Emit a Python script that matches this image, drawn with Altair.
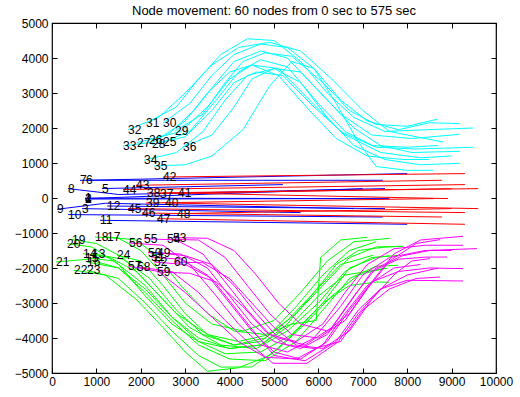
import altair as alt
import pandas as pd

FONT = "Liberation Sans"
TITLE = "Node movement: 60 nodes from 0 sec to 575 sec"
x_ticks = [0, 1000, 2000, 3000, 4000, 5000, 6000, 7000, 8000, 9000, 10000]
y_ticks = [-5000, -4000, -3000, -2000, -1000, 0, 1000, 2000, 3000, 4000, 5000]

# ---- blue group: nodes 1-12
blue_nodes = list(range(1, 13))
blue_x = [
    [743, 3500, 7600], [743, 7000], [676, 5600], [743, 7000], [1126, 5200], [766, 8000],
    [630, 7450], [360, 1500, 7500], [113, 1200, 6800], [360, 7450], [1081, 8000], [1239, 7500],
]
blue_y = [
    [-5, -10, -17], [-17, 268], [-303, -417], [-30, -17], [269, 383], [506, 697],
    [506, 506], [269, 100, 268], [-323, -150, -303], [-474, -543], [-637, -751], [-229, -303],
]

# ---- green group: nodes 13-24
green_nodes = list(range(13, 25))
green_x = [
    [901, 1600, 2200, 2800, 3400, 4100, 4800, 5500, 6100, 6700, 7300, 7905],
    [698, 1300, 1900, 2500, 3100, 3800, 4600, 5300, 6000, 6600, 7200, 7800],
    [743, 1400, 2100, 2700, 3300, 3900, 4700, 5400, 6100, 6700, 7300, 7600],
    [788, 1500, 2100, 2700, 3300, 4000, 4800, 5500, 6100, 6700, 7300, 7800],
    [1239, 1900, 2400, 2900, 3500, 4100, 4800, 5400, 5950, 6050, 6500, 7095],
    [968, 1500, 2000, 2500, 3000, 3600, 4300, 5000, 5600, 6200, 6800, 7612],
    [450, 1000, 1600, 2200, 2800, 3500, 4200, 4900, 5500, 6100, 6700, 7300],
    [338, 900, 1500, 2100, 2700, 3300, 4000, 4700, 5300, 5900, 6500, 7230],
    [90, 800, 1500, 2100, 2700, 3300, 4000, 4700, 5400, 6000, 6600, 7545],
    [495, 1200, 1900, 2500, 3000, 3500, 4200, 4900, 5500, 6100, 6700, 7300, 7600],
    [788, 1500, 2100, 2700, 3300, 3800, 4500, 5100, 5700, 6300, 6900, 7500],
    [1464, 2000, 2500, 3000, 3500, 4100, 4700, 5300, 5900, 6400, 6900, 7500, 7900],
]
green_y = [
    [-1589, -1750, -2300, -3200, -3900, -4200, -4000, -3300, -2500, -1700, -1400, -1380],
    [-1589, -1700, -2100, -2900, -3700, -4200, -4300, -3800, -3000, -2100, -1700, -1640],
    [-1700, -1800, -2500, -3400, -4100, -4450, -4400, -3900, -3000, -2000, -1700, -1650],
    [-1829, -2000, -2700, -3500, -4200, -4600, -4650, -4100, -3200, -2300, -1950, -1923],
    [-1114, -1200, -1700, -2500, -3300, -3800, -3900, -3600, -3500, -1700, -1200, -1123],
    [-1114, -1150, -1500, -2200, -3000, -3600, -3800, -3500, -2700, -1800, -1250, -1151],
    [-1189, -1300, -1700, -2500, -3300, -3900, -4100, -3900, -3100, -2200, -1500, -1250],
    [-1303, -1400, -1900, -2800, -3600, -4100, -4300, -4200, -3600, -2700, -1900, -1637],
    [-1829, -1750, -2000, -2600, -3400, -4000, -4300, -4200, -3600, -2800, -2200, -2009],
    [-2066, -2200, -2900, -3700, -4400, -4950, -4850, -4500, -3800, -3000, -2500, -2400, -2409],
    [-2066, -2300, -3000, -3800, -4500, -4830, -4830, -4300, -3600, -2800, -2200, -2000],
    [-1637, -1800, -2500, -3300, -3900, -4200, -4100, -3500, -2700, -1900, -1500, -1400, -1380],
]

# ---- cyan group: nodes 25-36
cyan_nodes = list(range(25, 37))
cyan_x = [
    [2500, 3100, 3700, 4200, 4700, 5300, 6000, 6600, 7300, 8200, 9482],
    [2185, 2900, 3500, 4000, 4500, 5100, 5800, 6500, 7200, 8000, 8700],
    [1914, 2600, 3200, 3700, 4100, 4700, 5300, 5900, 6500, 7200, 8100, 9189],
    [2252, 3000, 3600, 4100, 4600, 5200, 5900, 6600, 7400, 8300, 9000],
    [2770, 3400, 3900, 4300, 4800, 5400, 6100, 6700, 7300, 8000, 8671],
    [2500, 3100, 3600, 4100, 4700, 5300, 5900, 6500, 7100, 7800, 8500, 9189],
    [2117, 2800, 3300, 3800, 4400, 5000, 5600, 6200, 6800, 7500, 8400, 9482],
    [1712, 2400, 3000, 3600, 4200, 4900, 5600, 6300, 7000, 7600, 8806],
    [1599, 2300, 3000, 3500, 4000, 4500, 5100, 5800, 6400, 7100, 7900, 8500],
    [2072, 2800, 3400, 3900, 4400, 5000, 5600, 6200, 6800, 7500, 8300, 9189],
    [2297, 3000, 3600, 4300, 4900, 5400, 5900, 6400, 6900, 7300, 8000, 8581],
    [2950, 3600, 4100, 4500, 5000, 5600, 6200, 6800, 7400, 8100, 9189],
]
cyan_y = [
    [1600, 1900, 2800, 3600, 3950, 3750, 2700, 1900, 1450, 1400, 1449],
    [1669, 1900, 2600, 3400, 3800, 3700, 2800, 1900, 1500, 1450, 1500],
    [1583, 1800, 2500, 3300, 3900, 4200, 4000, 3200, 2400, 1800, 1700, 1820],
    [1534, 1750, 2500, 3300, 3600, 3500, 2600, 1800, 1300, 1150, 1200],
    [1914, 2400, 3300, 3900, 4150, 4050, 3300, 2500, 2100, 2050, 2249],
    [2143, 2700, 3500, 4100, 4400, 4300, 3700, 2800, 2200, 1950, 2150, 2126],
    [2143, 2600, 3400, 4100, 4550, 4500, 3900, 3000, 2300, 1900, 1950, 2000],
    [1954, 2300, 3000, 3800, 4300, 4450, 4200, 3400, 2500, 1900, 1600],
    [1486, 1600, 2200, 3000, 3600, 3800, 3500, 2500, 1700, 1200, 1100, 1100],
    [1077, 1300, 1900, 2800, 3500, 3700, 3300, 2300, 1500, 1100, 950, 991],
    [914, 950, 1200, 1950, 3200, 3900, 3700, 2700, 1600, 900, 790, 791],
    [1457, 1800, 2600, 3400, 3700, 3600, 2800, 2000, 1500, 1300, 1334],
]

# ---- red group: nodes 37-48
red_nodes = list(range(37, 49))
red_x = [
    [2432, 9000], [2140, 9600], [2117, 8600], [2545, 9600], [2838, 8920], [2500, 9300],
    [1892, 8780], [1599, 9300], [1712, 9300], [2027, 8780], [2365, 9300], [2815, 9000],
]
red_y = [
    [126, 268], [143, 268], [-143, -17], [-143, -303], [143, -17], [600, 697],
    [363, 506], [240, 383], [-303, -417], [-429, -543], [-589, -751], [-446, -303],
]

# ---- magenta group: nodes 49-60
magenta_nodes = list(range(49, 61))
magenta_x = [
    [2365, 3000, 3600, 4100, 4600, 5100, 5700, 6300, 6800, 7300, 7900, 8500, 9000],
    [2162, 2900, 3500, 4000, 4500, 5000, 5600, 6200, 6700, 7200, 7800, 8400, 8896],
    [2230, 2900, 3500, 4000, 4500, 5000, 5600, 6200, 6700, 7200, 7800, 8500, 9257],
    [2297, 3000, 3600, 4100, 4600, 5000, 5700, 6400, 6900, 7400, 8000, 8700],
    [2725, 3500, 4100, 4600, 5100, 5600, 6200, 6700, 7200, 7700, 8300, 9257],
    [2590, 3300, 3900, 4400, 4900, 5400, 6000, 6600, 7100, 7600, 8200, 8739],
    [2072, 2800, 3400, 3900, 4400, 4900, 5500, 6100, 6600, 7100, 7700, 8400, 9257],
    [1734, 2500, 3100, 3700, 4200, 4700, 5300, 5900, 6500, 7000, 7600, 8400, 9572],
    [1712, 2400, 3000, 3600, 4200, 4800, 5500, 6100, 6600, 7100, 7700, 8300],
    [1914, 2700, 3300, 3900, 4400, 4977, 5743, 6441, 6900, 7400, 8000, 9257],
    [2365, 3100, 3700, 4300, 4800, 5300, 5900, 6500, 7000, 7600, 8200, 8739],
    [2748, 3400, 4000, 4500, 5000, 5500, 6100, 6700, 7200, 7700, 8100, 8514],
]
magenta_y = [
    [-1560, -1650, -1900, -2500, -3300, -4000, -4200, -3700, -2800, -2000, -1650, -1500, -1500],
    [-1560, -1600, -2000, -2800, -3600, -4100, -4300, -3900, -3000, -2100, -1750, -1690, -1686],
    [-1686, -1750, -2200, -3000, -3800, -4400, -4600, -4100, -3200, -2400, -2100, -2000, -2017],
    [-1829, -1900, -2300, -3100, -3900, -4500, -4650, -4100, -3200, -2600, -2200, -2000],
    [-1131, -1150, -1500, -2200, -3000, -3600, -3800, -3300, -2400, -1600, -1200, -1094],
    [-1180, -1200, -1700, -2500, -3300, -3900, -4000, -3500, -2600, -1800, -1300, -1189],
    [-1160, -1200, -1600, -2400, -3200, -3900, -4100, -3600, -2700, -1900, -1450, -1350, -1351],
    [-1286, -1350, -1900, -2800, -3600, -4200, -4400, -4000, -3100, -2200, -1700, -1500, -1446],
    [-1943, -2100, -2700, -3400, -4100, -4550, -4600, -4200, -3300, -2500, -2000, -1900],
    [-1971, -2100, -2700, -3500, -4100, -4723, -4723, -4114, -3300, -2600, -2350, -2371],
    [-2114, -2150, -2400, -3100, -3800, -4200, -4300, -4100, -3200, -2600, -2300, -2257],
    [-1829, -1850, -2300, -3000, -3700, -4200, -4300, -3800, -2900, -2200, -1800, -1731],
]

groups = [
    (blue_nodes, blue_x, blue_y, "#0000ff"),
    (green_nodes, green_x, green_y, "#00ff00"),
    (cyan_nodes, cyan_x, cyan_y, "#00ffff"),
    (red_nodes, red_x, red_y, "#ff0000"),
    (magenta_nodes, magenta_x, magenta_y, "#ff00ff"),
]


def to_frame(nodes, xs, ys):
    rows = []
    for n, xl, yl in zip(nodes, xs, ys):
        for i, (a, b) in enumerate(zip(xl, yl)):
            rows.append({"node": n, "i": i, "x": a, "y": b})
    return pd.DataFrame(rows)


xscale = alt.Scale(domain=[0, 10000], nice=False, zero=False)
yscale = alt.Scale(domain=[-5000, 5000], nice=False, zero=False)

common_axis = dict(
    format="d", offset=-5, tickSize=5, tickWidth=1, tickColor="black", domain=False,
    grid=False, labelFont=FONT, labelFontSize=12, labelColor="black", title=None,
    labelFlush=False, labelOverlap=False,
)
x_bottom = alt.Axis(orient="bottom", values=x_ticks, labelPadding=3, **common_axis)
y_left = alt.Axis(orient="left", values=y_ticks, labelPadding=4, **common_axis)
x_top = alt.Axis(orient="top", values=x_ticks, labels=False, **common_axis)
y_right = alt.Axis(orient="right", values=y_ticks, labels=False, **common_axis)

layers = []
label_rows = []
for k, (nodes, xs, ys, color) in enumerate(groups):
    df = to_frame(nodes, xs, ys)
    first = k == 0
    layer = alt.Chart(df).mark_line(strokeWidth=1, color=color).encode(
        x=alt.X("x:Q", scale=xscale, axis=x_bottom if first else None),
        y=alt.Y("y:Q", scale=yscale, axis=y_left if first else None),
        detail="node:N",
        order="i:Q",
    )
    layers.append(layer)
    for n, xl, yl in zip(nodes, xs, ys):
        label_rows.append({"label": str(n), "x": xl[0], "y": yl[0]})

labels_df = pd.DataFrame(label_rows)
text = alt.Chart(labels_df).mark_text(
    align="left", baseline="middle", font=FONT, fontSize=12, color="black"
).encode(
    x=alt.X("x:Q", scale=xscale, axis=x_top),
    y=alt.Y("y:Q", scale=yscale, axis=y_right),
    text="label:N",
)
layers.append(text)

chart = alt.layer(*layers).resolve_axis(x="independent", y="independent").properties(
    width=444,
    height=350,
    title=alt.TitleParams(TITLE, font=FONT, fontSize=13, fontWeight="normal", color="black",
                          baseline="alphabetic", offset=-11, anchor="middle", frame="group"),
    autosize=alt.AutoSizeParams(type="none"),
    padding={"left": 52, "top": 23, "right": 24, "bottom": 24},
    background="white",
).configure_view(stroke="black", strokeWidth=1.2)

chart.save("out.html", embed_options={"renderer": "svg", "actions": False})
